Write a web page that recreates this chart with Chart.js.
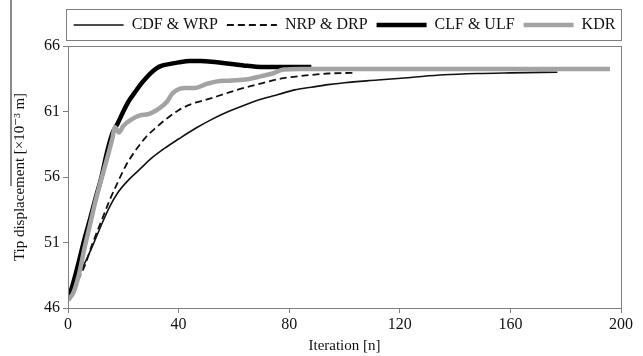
<!DOCTYPE html>
<html>
<head>
<meta charset="utf-8">
<script src="https://cdn.jsdelivr.net/npm/chart.js@4/dist/chart.umd.min.js"></script>
<style>
  html, body { margin: 0; padding: 0; background: #fff; }
  #wrap { position: relative; width: 643px; height: 356px; }
  #edge { position: absolute; left: 10px; top: 0; width: 2px; height: 186px; background: #8a8a8a; }
</style>
</head>
<body>
<div id="wrap">
  <canvas id="myChart" width="643" height="356"></canvas>
  <div id="edge"></div>
</div>
<script>
// values
const cdfX = [0, 2, 4, 6, 9, 12, 15, 18, 22, 26, 30, 35, 40, 46, 52, 58, 64, 70, 76, 82, 88, 94, 100, 112, 124, 136, 148, 160, 177];
const cdfY = [46.6, 47.6, 48.6, 49.4, 50.8, 52.3, 53.7, 54.8, 55.8, 56.6, 57.4, 58.2, 58.9, 59.7, 60.4, 61.0, 61.5, 61.95, 62.3, 62.65, 62.85, 63.05, 63.2, 63.4, 63.6, 63.8, 63.9, 63.95, 64.0];

const nrpX = [0, 2, 4, 6, 9, 12, 15, 18, 21, 24, 28, 32, 36, 40, 45, 50, 56, 62, 70, 78, 86, 94, 103];
const nrpY = [46.6, 47.5, 48.3, 49.2, 51.0, 52.6, 54.2, 55.6, 56.9, 57.9, 59.0, 59.8, 60.5, 61.1, 61.6, 61.9, 62.3, 62.7, 63.15, 63.55, 63.75, 63.9, 63.95];

const clfX = [0, 2, 4, 6, 8, 10, 12, 14, 16, 18, 20, 22, 24, 26, 28, 30, 32, 34, 36, 40, 44, 48, 52, 56, 60, 64, 68, 72, 76, 80, 88];
const clfY = [46.6, 48.0, 49.6, 51.3, 52.8, 54.4, 55.9, 57.8, 59.3, 60.1, 61.0, 61.8, 62.4, 63.0, 63.5, 63.95, 64.3, 64.5, 64.6, 64.75, 64.85, 64.85, 64.8, 64.7, 64.6, 64.5, 64.42, 64.4, 64.4, 64.4, 64.4];

const kdrX = [0, 2, 4, 6, 8, 10, 12, 14, 16, 17, 18.4, 20, 23, 26, 29, 32, 34, 36, 37.5, 39, 42, 46, 50, 54, 58, 62, 66, 70, 74, 78, 84, 100, 140, 196];
const kdrY = [46.6, 47.2, 48.6, 50.6, 52.4, 54.2, 55.8, 57.3, 58.9, 59.8, 59.4, 59.9, 60.4, 60.7, 60.8, 61.1, 61.4, 61.8, 62.3, 62.6, 62.8, 62.8, 63.1, 63.3, 63.35, 63.4, 63.5, 63.7, 63.9, 64.2, 64.25, 64.25, 64.25, 64.25];

const xTicks = [0, 40, 80, 120, 160, 200];
const yTicks = [46, 51, 56, 61, 66];

const axisGray = "#7f7f7f";
const serif = "'Liberation Serif', 'DejaVu Serif', serif";

function pts(xs, ys) {
  return xs.map((x, i) => ({ x: x, y: ys[i] }));
}

// frame round the plot and box round the legend
const frame = {
  id: "frame",
  beforeInit(chart) {
    const fit = chart.legend.fit;
    chart.legend.fit = function () {
      fit.call(this);
      this.height += 3;
    };
  },
  beforeDraw(chart) {
    // centre the legend over the plot, not the whole canvas
    chart.legend.left = chart.chartArea.left - 12;
    chart.legend.right = chart.chartArea.right + 12;
  },
  afterDraw(chart) {
    const { ctx, chartArea: a, legend } = chart;
    const l = Math.round(a.left), t = Math.round(a.top);
    const w = Math.round(a.right - a.left), h = Math.round(a.bottom - a.top);
    ctx.save();
    ctx.strokeStyle = axisGray;
    ctx.lineWidth = 1;
    ctx.strokeRect(l + 0.5, t + 0.5, w, h);
    ctx.strokeRect(l - 1.5, Math.round(legend.top) + 1.5, w + 2, 31);
    ctx.restore();
  },
};

const canvas = document.getElementById("myChart");
const myChart = new Chart(canvas, {
  type: "line",
  data: {
    datasets: [
      {
        label: "CDF & WRP",
        data: pts(cdfX, cdfY),
        borderColor: "#111",
        borderWidth: 1.6,
        order: 4,
      },
      {
        label: "NRP & DRP",
        data: pts(nrpX, nrpY),
        borderColor: "#111",
        borderWidth: 1.8,
        borderDash: [7, 4],
        order: 3,
      },
      {
        label: "CLF & ULF",
        data: pts(clfX, clfY),
        borderColor: "#000",
        borderWidth: 4.5,
        order: 2,
      },
      {
        label: "KDR",
        data: pts(kdrX, kdrY),
        borderColor: "#a3a3a3",
        borderWidth: 4.5,
        order: 1,
      },
    ],
  },
  options: {
    responsive: false,
    animation: false,
    events: [],
    layout: { padding: { left: 8, right: 22, top: 8, bottom: 0 } },
    elements: {
      point: { radius: 0 },
      line: { cubicInterpolationMode: "monotone", fill: false },
    },
    plugins: {
      tooltip: { enabled: false },
      legend: {
        position: "top",
        labels: {
          usePointStyle: true,
          pointStyle: "line",
          pointStyleWidth: 50,
          padding: 9,
          color: "#111",
          font: { family: serif, size: 16 },
          sort: (a, b) => a.datasetIndex - b.datasetIndex,
          generateLabels: (chart) =>
            Chart.defaults.plugins.legend.labels.generateLabels(chart).map((item) => {
              const ds = chart.data.datasets[item.datasetIndex];
              item.lineDash = ds.borderDash || [];
              item.lineWidth = ds.borderWidth;
              item.strokeStyle = ds.borderColor;
              return item;
            }),
        },
      },
    },
    scales: {
      x: {
        type: "linear",
        min: 0,
        max: 200,
        afterBuildTicks: (s) => { s.ticks = xTicks.map((v) => ({ value: v })); },
        afterFit: (s) => { s.height = 48; },
        grid: { drawOnChartArea: false, tickLength: 5, color: axisGray },
        border: { color: axisGray },
        ticks: { color: "#111", font: { family: serif, size: 16 }, padding: 2, maxRotation: 0 },
        title: { display: true, text: "Iteration [n]", color: "#111", font: { family: serif, size: 15 }, padding: { top: 0, bottom: 1 } },
      },
      y: {
        min: 46,
        max: 66,
        afterBuildTicks: (s) => { s.ticks = yTicks.map((v) => ({ value: v })); },
        afterFit: (s) => { s.width = 60; },
        grid: { drawOnChartArea: false, tickLength: 5, color: axisGray },
        border: { color: axisGray },
        ticks: { color: "#111", font: { family: serif, size: 16 }, padding: 3 },
        title: { display: true, text: "Tip displacement [×10⁻³ m]", color: "#111", font: { family: serif, size: 15 }, padding: { top: 3, bottom: 0 } },
      },
    },
  },
  plugins: [frame],
});
</script>
</body>
</html>
